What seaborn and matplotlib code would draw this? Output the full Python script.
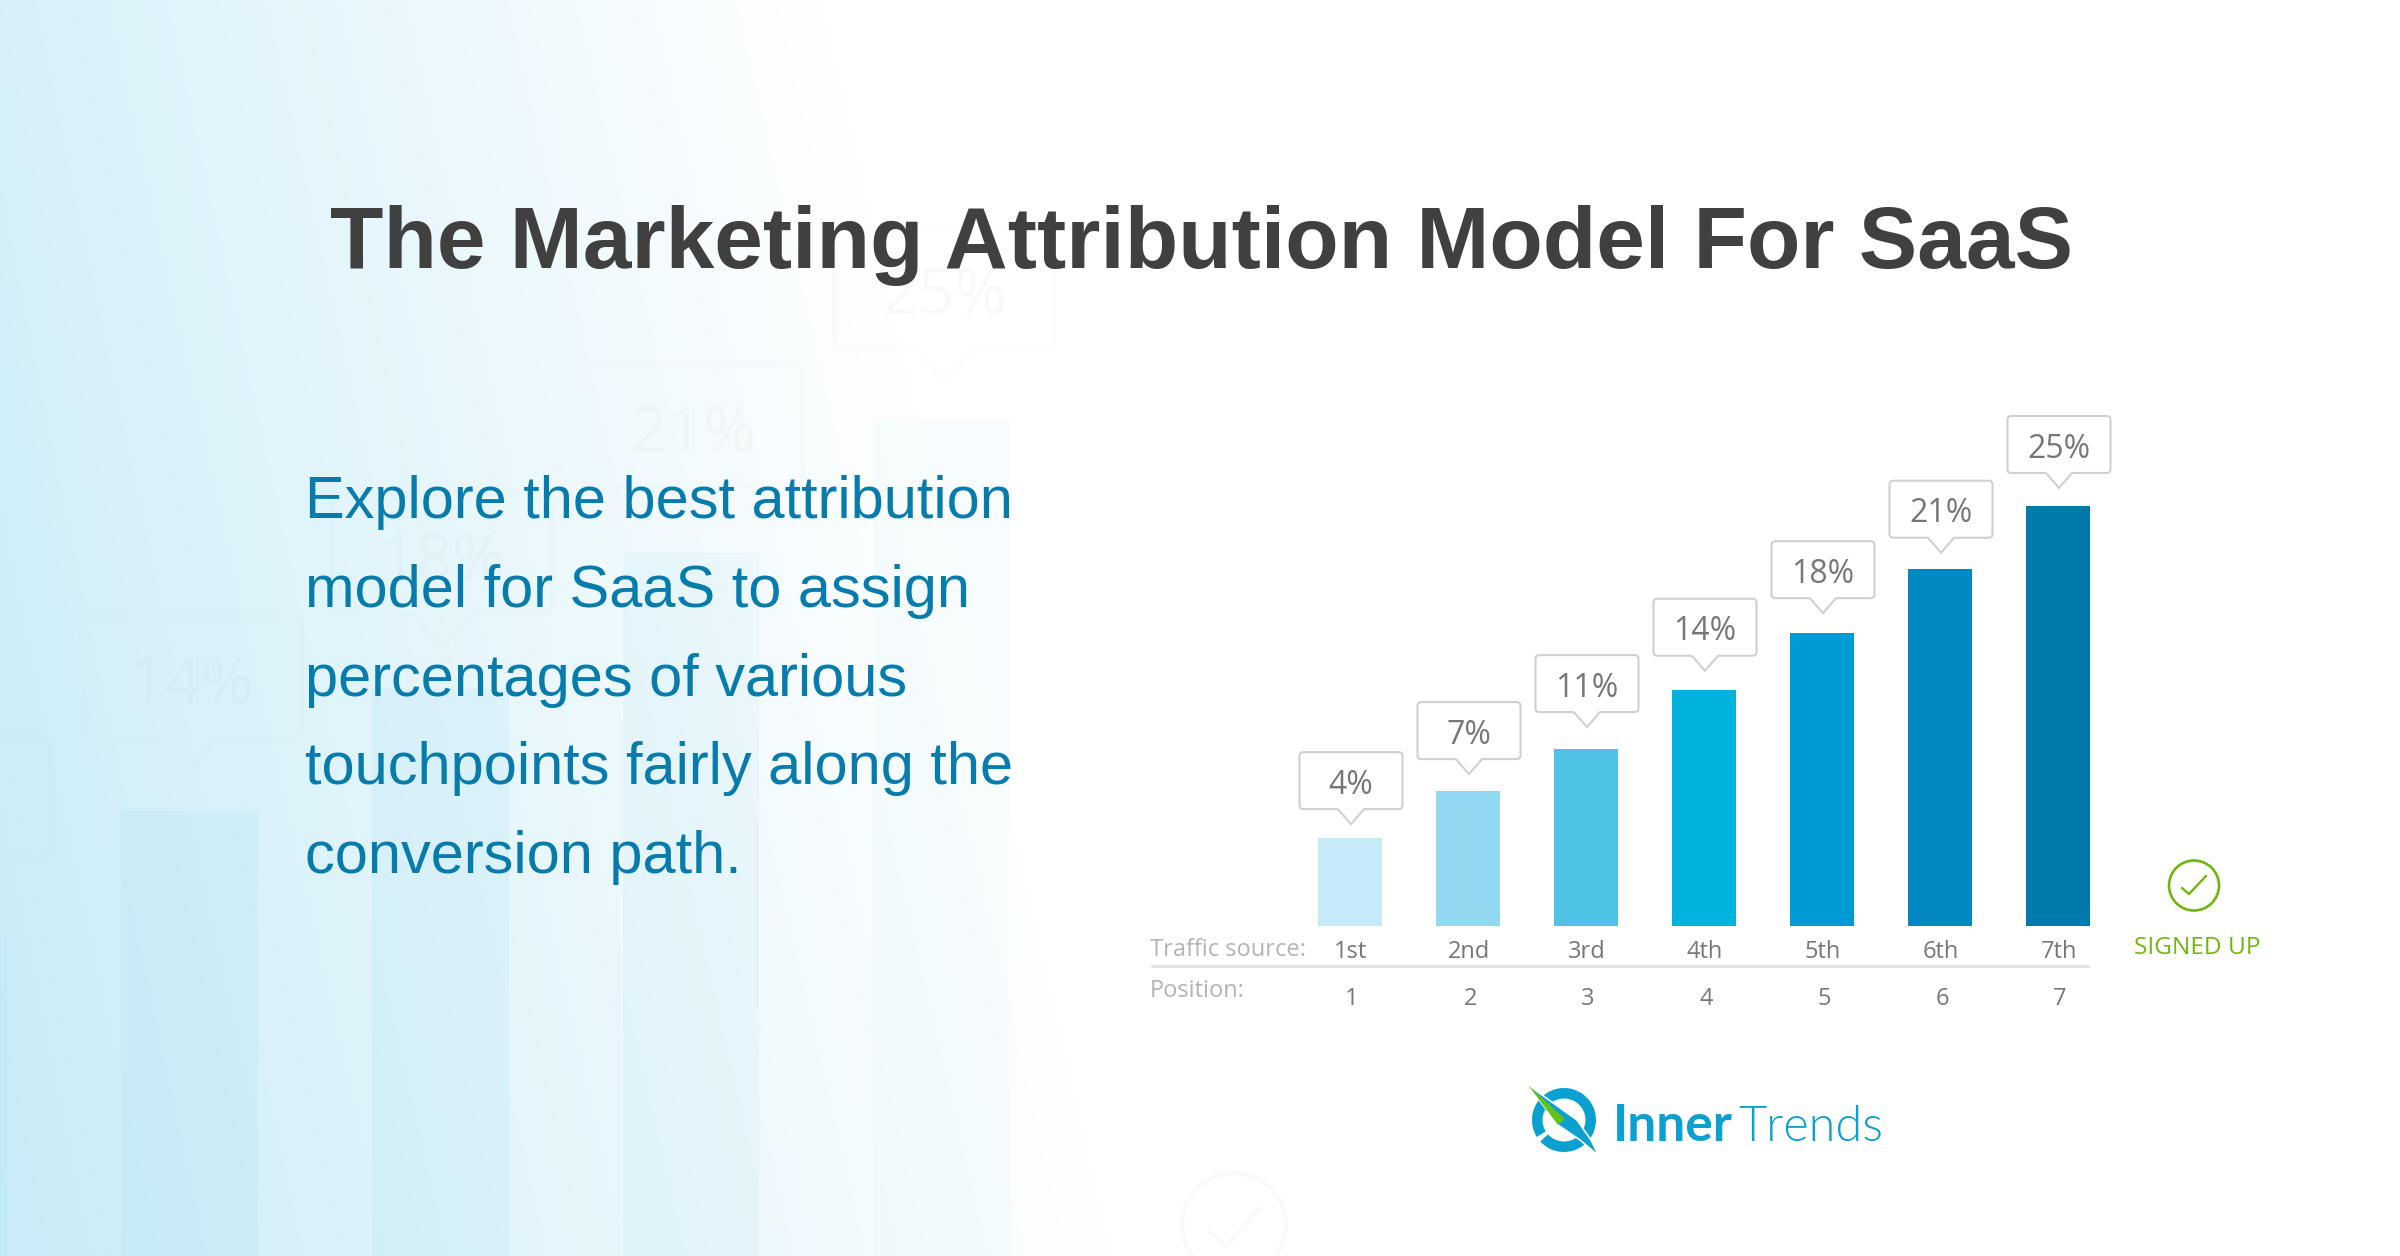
import numpy as np
import pandas as pd
import matplotlib
matplotlib.use("Agg")
import matplotlib.pyplot as plt
from matplotlib.colors import to_rgb
from matplotlib.patches import Circle, PathPatch, Wedge, Polygon
from matplotlib.path import Path
import seaborn as sns

# ---- data -------------------------------------------------------------
sources = ["1st", "2nd", "3rd", "4th", "5th", "6th", "7th"]
positions = ["1", "2", "3", "4", "5", "6", "7"]
bar_heights = [5.2, 8.0, 10.5, 14.0, 17.4, 21.2, 25.0]   # as drawn in the picture
share_labels = ["4%", "7%", "11%", "14%", "18%", "21%", "25%"]
bar_colors = ["#c6eaf7", "#91d8f0", "#4fc3e6", "#00b2de", "#009bd4", "#0088c1", "#007aab"]
ghost_colors = ["#8fd6ee", "#8fd6ee", "#8fd6ee", "#8fd6ee", "#8fd6ee", "#a8dff2", "#d2eff9"]
callout_gaps = [14, 17, 22, 19.5, 20, 16.6, 17.5]        # bar top to callout tip

title = "The Marketing Attribution Model For SaaS"
body_lines = ["Explore the best attribution", "model for SaaS to assign",
              "percentages of various", "touchpoints fairly along the", "conversion path."]

W, H = 2400, 1256
sns.set_theme(style="white")
plt.rcParams["font.family"] = ["Open Sans", "DejaVu Sans"]
fig = plt.figure(figsize=(W / 100, H / 100), dpi=100, facecolor="white")


def px_axes(left, top, right, bottom, z):
    a = fig.add_axes([left / W, 1 - bottom / H, (right - left) / W, (bottom - top) / H])
    a.set_zorder(z)
    a.patch.set_alpha(0)
    return a


# ---- background gradient ----------------------------------------------
bg = px_axes(0, 0, W, H, 0)
yy, xx = np.mgrid[0:1:200j, 0:1:600j]
reach = (820 + 290 * yy) / W
t = np.clip(xx / reach, 0, 1)
left_col = np.zeros(yy.shape + (3,))
top_c, bot_c = np.array(to_rgb("#d6f1fa")), np.array(to_rgb("#c8ecf8"))
for k in range(3):
    edge = top_c[k] + (bot_c[k] - top_c[k]) * yy
    left_col[..., k] = edge + (1 - edge) * t ** 0.95
bg.imshow(left_col, extent=(0, W, H, 0), aspect="auto", interpolation="bilinear")
bg.axis("off")


# ---- the chart, drawn twice: faint enlarged copy and the real one -------
def draw_chart(center0, base, scale, z, alpha, ghost):
    step, unit = 118 * scale, 16.8 * scale
    a = px_axes(center0 - step / 2, base - 30 * unit, center0 + 6.5 * step, base, z)
    df = pd.DataFrame({"source": sources, "height": bar_heights})
    sns.barplot(data=df, x="source", y="height", hue="source",
                palette=ghost_colors if ghost else bar_colors,
                width=64 / 118, dodge=False, legend=False, saturation=1, alpha=alpha,
                linewidth=0, ax=a)
    a.set_xlim(-0.5, 6.5)
    a.set_ylim(0, 30)
    a.axis("off")
    for bar in a.patches:
        bar.set_clip_on(False)

    # value callouts, sized in pixels of the reference and placed from each bar's top
    ux, uy = 1 / 118, 1 / 16.8
    for i, (h, lab, gap) in enumerate(zip(bar_heights, share_labels, callout_gaps)):
        cx = i + 1 * ux
        tip = h + gap * uy
        shoulder = tip + 15 * uy
        top = shoulder + 57 * uy
        hw, r, th = 51.5 * ux, 4 * ux, 13 * ux
        ry = 4 * uy
        verts = [(cx - th, shoulder), (cx - hw + r, shoulder),
                 (cx - hw, shoulder), (cx - hw, shoulder + ry), (cx - hw, top - ry),
                 (cx - hw, top), (cx - hw + r, top), (cx + hw - r, top),
                 (cx + hw, top), (cx + hw, top - ry), (cx + hw, shoulder + ry),
                 (cx + hw, shoulder), (cx + hw - r, shoulder), (cx + th, shoulder),
                 (cx, tip), (cx - th, shoulder)]
        codes = [Path.MOVETO, Path.LINETO, Path.CURVE3, Path.CURVE3, Path.LINETO,
                 Path.CURVE3, Path.CURVE3, Path.LINETO, Path.CURVE3, Path.CURVE3,
                 Path.LINETO, Path.CURVE3, Path.CURVE3, Path.LINETO, Path.LINETO, Path.LINETO]
        edge = "#b9b9b9" if ghost else "#d0d0d0"
        a.add_patch(PathPatch(Path(verts, codes), fc="white" if not ghost else "none",
                              ec=edge, lw=1.5 * scale, alpha=0.03 if ghost else 1,
                              clip_on=False, zorder=4))
        label_px = center0 + i * step
        if not ghost or label_px > 100:
            a.text(cx, shoulder + 24 * uy, lab, ha="center", va="center",
                   fontsize=23 * scale * (0.94 if ghost else 1),
                   color="#9a9a9a" if ghost else "#777777",
                   alpha=0.05 if ghost else 1, zorder=5, clip_on=False)
    return a


ghost_ax = draw_chart(-563.5, 1311.0, 2.127, 1, 0.13, True)
chart_ax = draw_chart(1350.0, 925.5, 1.0, 2, 1.0, False)

# ---- overlay in reference pixels: text, rows, check mark, logo ----------
ov = px_axes(0, 0, W, H, 3)
ov.set_xlim(0, W)
ov.set_ylim(H, 0)
ov.axis("off")

ov.add_patch(Circle((1234, 1225), 52, fc="none", ec="#9fb9a0", lw=3.4, alpha=0.06))
ov.plot([1210, 1226, 1260], [1232, 1246, 1208], color="#9fb9a0", lw=3.4, alpha=0.06)

ov.text(1202, 268, title, ha="center", va="baseline", fontsize=63, fontweight="bold",
        family=["Liberation Sans"], color="#404040")
for k, line in enumerate(body_lines):
    ov.text(305, 518 + k * 88.8, line, ha="left", va="baseline", fontsize=42.8,
            family=["Liberation Sans"], color="#077cac")

ov.text(1150, 950, "Traffic source:", ha="left", va="center", fontsize=17, color="#b4b4b4")
ov.text(1150, 991, "Position:", ha="left", va="center", fontsize=17, color="#b4b4b4")
ov.plot([1151, 2089], [966, 966], color="#e1e1e1", lw=2.2, solid_capstyle="butt")
for i, (s, p) in enumerate(zip(sources, positions)):
    chart_ax.annotate(s, (i, 0), xytext=(0.5, -18.8), textcoords="offset points", ha="center",
                      va="center", fontsize=17, color="#777777", annotation_clip=False)
    chart_ax.annotate(p, (i, 0), xytext=(1.5, -53.2), textcoords="offset points", ha="center",
                      va="center", fontsize=17, color="#777777", annotation_clip=False)

green = "#70b60f"
ov.add_patch(Circle((2194, 885.5), 25, fc="none", ec=green, lw=1.9))
ov.plot([2182, 2189, 2206], [888, 894, 876], color=green, lw=1.7)
ov.text(2197, 948, "SIGNED UP", ha="center", va="center", fontsize=17.6, color=green)

logo = "#0aa0d0"
ov.add_patch(Wedge((1564, 1120), 32, -212, 138, width=10.5, fc=logo, ec="none"))
ov.add_patch(Polygon([(1528, 1085), (1577, 1120), (1591, 1140), (1599, 1156), (1580, 1140),
                      (1558, 1125)], closed=True, fc=logo, ec="white", lw=1.2, joinstyle="miter"))
ov.add_patch(Polygon([(1528, 1085), (1565, 1119), (1558, 1125)], closed=True, fc="#62c21a", ec="none"))
ov.text(1613, 1141, "Inner", ha="left", va="baseline", fontsize=37, fontweight="bold",
        family=["Lato"], color=logo)
ov.text(1738, 1141, "Trends", ha="left", va="baseline", fontsize=35, fontweight=300,
        family=["Lato"], color=logo)

fig.savefig("out.png", dpi=100, facecolor="white")
